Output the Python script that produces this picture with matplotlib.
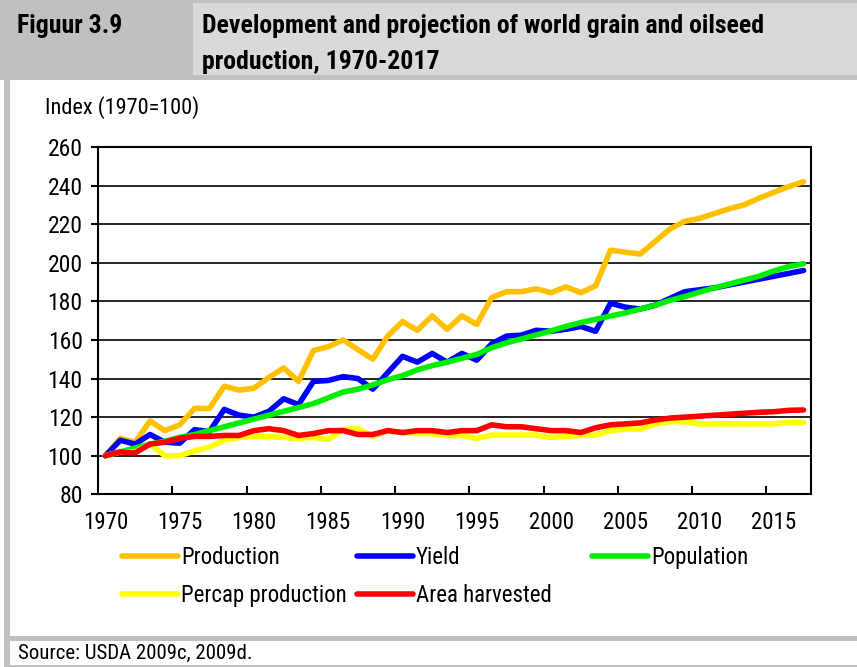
import numpy as np
import matplotlib
matplotlib.use("Agg")
import matplotlib.pyplot as plt
from matplotlib import font_manager
from matplotlib.patches import Rectangle
from matplotlib.ticker import FixedLocator, MultipleLocator

# kies een smal lettertype als dat er is
available = {f.name for f in font_manager.fontManager.ttflist}
narrow = [f for f in ["Liberation Sans Narrow", "Roboto Condensed", "DejaVu Sans Condensed"]
          if f in available]
plt.rcParams["font.family"] = narrow + ["Liberation Sans", "DejaVu Sans"]

# data (index 1970=100)
years = list(range(1970, 2018))
production = [100, 109, 107, 118, 113, 116, 124.5, 124.5, 136, 134,
              135, 140.5, 145.5, 138.5, 154.5, 156.5, 160, 155, 150, 162,
              169.5, 165, 172.5, 165.5, 172.5, 168, 182, 185, 185, 186.5,
              184.5, 187.5, 184.5, 188, 206.5, 205.5, 204.5, 211, 217.5, 221.5,
              223, 225.5, 228, 230, 233.5, 236.5, 239.5, 242]
yield_ = [100, 108, 106, 111, 107, 106.5, 113.5, 112.5, 124, 121,
          120, 123, 129.5, 126.5, 138.5, 139, 141, 140, 134.5, 143,
          151.5, 148.5, 153, 148.5, 153, 149.5, 158, 162, 162.5, 165,
          164.5, 165.5, 167, 164.5, 179, 177, 176, 178, 181.5, 185,
          186, 187, 188.5, 190, 191.5, 193, 194.5, 196]
population = [100, 102, 104, 106, 107.5, 109.5, 111, 113, 115, 117,
              119, 121, 123, 125, 127, 130, 133, 134.5, 136.7, 139.4,
              141.5, 144.5, 146.7, 148.5, 150.5, 152.5, 156, 158.5, 160.5, 162.6,
              164.7, 167, 169, 170.7, 172.4, 174, 176, 178, 180.5, 182.5,
              184.8, 187, 189, 191, 193, 195.8, 198, 199.5]
percap = [100, 102, 102, 106, 100, 100, 102.5, 104.5, 108, 109.5,
          110, 110, 109.5, 109, 109.5, 108.5, 113.5, 114, 110, 113,
          112, 111.5, 111.5, 110.5, 110.5, 109, 110.7, 110.7, 110.7, 110.7,
          109.5, 110, 110.5, 110.7, 113, 113.8, 113.8, 116.4, 117.6, 117.6,
          116.5, 116.5, 116.5, 116.5, 116.5, 116.5, 117.3, 117.3]
area = [100, 102, 101.5, 106, 107, 109, 110, 110, 110.5, 110.5,
        113, 114, 113, 110.5, 111.5, 113, 113, 111, 111, 113,
        112, 113, 113, 112, 113, 113, 116, 115, 115, 114,
        113, 113, 112, 114.5, 116, 116.5, 117, 118.5, 119.5, 120,
        120.5, 121, 121.5, 122, 122.5, 122.8, 123.5, 123.7]

series = [("Production", production, "#FFC000"),
          ("Yield", yield_, "#0000FF"),
          ("Population", population, "#00EE00"),
          ("Percap production", percap, "#FFFF00"),
          ("Area harvested", area, "#FF0000")]

W, H = 857, 667
fig = plt.figure(figsize=(W / 100, H / 100), dpi=100)

def px_rect(x0, y0, x1, y1, color):
    fig.patches.append(Rectangle((x0 / W, 1 - y1 / H), (x1 - x0) / W, (y1 - y0) / H,
                                 transform=fig.transFigure, color=color, lw=0, zorder=0))

# kader en kop
px_rect(0, 0, W, 80, "#c0c0c0")
px_rect(193, 3, W, 75, "#d9d9d9")
px_rect(4, 80, 10, H, "#c0c0c0")
px_rect(4, 636, W, 641, "#c0c0c0")
px_rect(4, 665, W, H, "#c0c0c0")

fig.text(17 / W, 1 - 26 / H, "Figuur 3.9", fontsize=18.5, fontweight="bold", va="center")
fig.text(202 / W, 1 - 26 / H, "Development and projection of world grain and oilseed",
         fontsize=18.5, fontweight="bold", va="center")
fig.text(202 / W, 1 - 62 / H, "production, 1970-2017", fontsize=18.5, fontweight="bold", va="center")
fig.text(45 / W, 1 - 108 / H, "Index (1970=100)", fontsize=16, va="center")
fig.text(18 / W, 1 - 653 / H, "Source: USDA 2009c, 2009d.", fontsize=15, va="center")

ax = fig.add_axes([98 / W, 1 - 494.3 / H, 713 / W, 347.3 / H])
lines = []
for name, vals, col in series:
    ln, = ax.plot(years, vals, color=col, lw=4, label=name,
                  solid_joinstyle="round", solid_capstyle="round")
    lines.append(ln)

ax.set_xlim(1969.5, 2017.5)
ax.set_ylim(80, 260)
ax.yaxis.set_major_locator(MultipleLocator(20))
ax.grid(axis="y", color="black", lw=1.2)
ax.set_axisbelow(True)
ax.set_xticks(range(1970, 2016, 5))
ax.xaxis.set_minor_locator(FixedLocator(np.arange(1974.5, 2015, 5)))
ax.tick_params(axis="x", which="major", length=0, pad=12, labelsize=16.5)
ax.tick_params(axis="x", which="minor", direction="in", length=6, width=1.5)
ax.tick_params(axis="y", direction="out", length=5, width=1.5, pad=6, labelsize=17)
for sp in ax.spines.values():
    sp.set_linewidth(1.5)

# legenda: drie kolommen
cols = [(122, [lines[0], lines[3]]), (357, [lines[1], lines[4]]), (592, [lines[2]])]
for x, hs in cols:
    fig.legend(handles=hs, loc="upper left", bbox_to_anchor=(x / W, 1 - 546 / H),
               frameon=False, fontsize=16.5, handlelength=2.45, handletextpad=0.12,
               borderpad=0, borderaxespad=0, labelspacing=0.65)

fig.savefig("out.png", dpi=100, facecolor="white")
